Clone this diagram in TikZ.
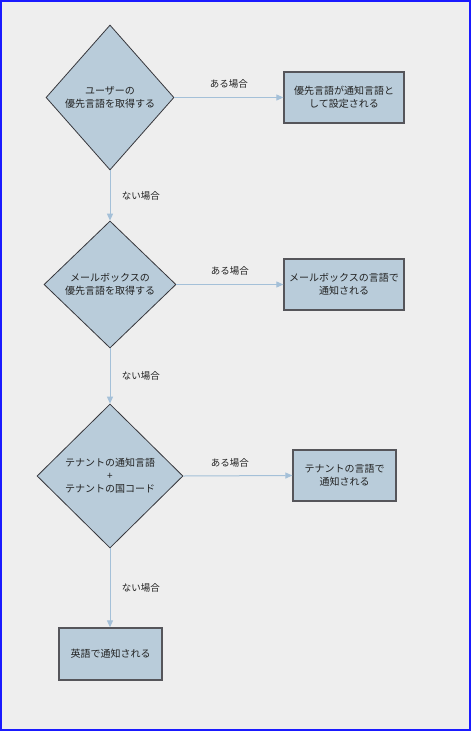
\documentclass[tikz,border=0pt]{standalone}
\usepackage{fontspec}
\setmainfont{Noto Sans CJK JP}
\usepackage{tikz}
\usetikzlibrary{shapes.geometric, arrows.meta}
\definecolor{mybg}{RGB}{238,238,238}
\definecolor{myframe}{RGB}{26,26,255}
\definecolor{myfill}{RGB}{185,204,218}
\definecolor{myedge}{RGB}{55,55,60}
\definecolor{myboxedge}{RGB}{85,85,90}
\definecolor{myarrow}{RGB}{164,192,216}
\definecolor{mytext}{RGB}{34,34,34}
\tikzset{
  decision/.style={diamond, draw=myedge, fill=myfill, inner sep=0pt,
    align=center, font=\fontsize{10}{13}\selectfont, text=mytext,
    line width=0.8pt},
  outbox/.style={rectangle, draw=myboxedge, fill=myfill, inner sep=0pt,
    align=center, font=\fontsize{10}{13}\selectfont, text=mytext,
    line width=1.3pt},
  arrow/.style={-{Triangle[length=7pt, width=6pt]}, line width=1pt,
    color=myarrow},
  yeslabel/.style={midway, above=5pt, font=\fontsize{9.5}{12}\selectfont,
    text=mytext},
  nolabel/.style={midway, right=8pt, font=\fontsize{9.5}{12}\selectfont,
    text=mytext}
}
\begin{document}
\begin{tikzpicture}[x=1pt, y=-1pt]
  % Background and frame
  \fill[mybg] (0,0) rectangle (471,731);
  \draw[myframe, line width=2pt] (1,1) rectangle (470,730);
  \useasboundingbox (0,0) rectangle (471,731);

  % Decisions
  \node[decision, minimum width=128pt, minimum height=145pt] (user) at (110,97.5)
    {ユーザーの\\優先言語を取得する};
  \node[decision, minimum width=132pt, minimum height=127pt] (mailbox) at (110,284.5)
    {メールボックスの\\優先言語を取得する};
  \node[decision, minimum width=146pt, minimum height=144pt] (tenant) at (110,476)
    {テナントの通知言語\\+\\テナントの国コード};

  % Results
  \node[outbox, minimum width=120pt, minimum height=51pt] (userlang) at (344,97.5)
    {優先言語が通知言語と\\して設定される};
  \node[outbox, minimum width=120pt, minimum height=51pt] (mboxlang) at (344,284.5)
    {メールボックスの言語で\\通知される};
  \node[outbox, minimum width=103pt, minimum height=51pt] (tenantlang) at (344.5,475.5)
    {テナントの言語で\\通知される};
  \node[outbox, minimum width=103pt, minimum height=52pt] (english) at (110.5,654)
    {英語で通知される};

  % Yes branches
  \draw[arrow] (user.east) -- (userlang.west) node[yeslabel] {ある場合};
  \draw[arrow] (mailbox.east) -- (mboxlang.west) node[yeslabel] {ある場合};
  \draw[arrow] (tenant.east) -- (tenantlang.west) node[yeslabel, xshift=-8pt] {ある場合};

  % No branches
  \draw[arrow] (user.south) -- (mailbox.north) node[nolabel] {ない場合};
  \draw[arrow] (mailbox.south) -- (tenant.north) node[nolabel] {ない場合};
  \draw[arrow] (tenant.south) -- (english.north -| tenant.south) node[nolabel] {ない場合};
\end{tikzpicture}
\end{document}
